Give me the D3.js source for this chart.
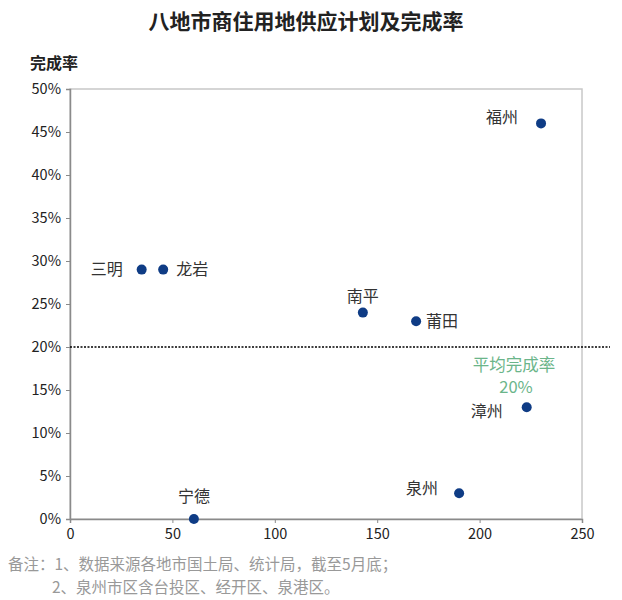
<!DOCTYPE html>
<html>
<head>
<meta charset="utf-8">
<script src="https://cdn.jsdelivr.net/npm/d3@7"></script>
<style>
  body { margin: 0; background: #fff; }
  svg text { font-family: "Noto Sans CJK SC", "Noto Sans", sans-serif; }
</style>
</head>
<body>
<svg id="chart" width="622" height="600"></svg>
<script>
// 城市, 供应量(x), 完成率(y)
var cities = ["福州", "三明", "龙岩", "南平", "莆田", "漳州", "泉州", "宁德"];
var supply = [230, 35, 45.5, 143, 169, 223, 190, 60.5];
var rate = [0.46, 0.29, 0.29, 0.24, 0.23, 0.13, 0.03, 0];
var xTicks = [0, 50, 100, 150, 200, 250];
var yTicks = [0, 0.05, 0.1, 0.15, 0.2, 0.25, 0.3, 0.35, 0.4, 0.45, 0.5];
var avgRate = 0.2;

// label placement around each point
var labelOffset = {
  "福州": [-23, -6, "end"],
  "三明": [-19, 0, "end"],
  "龙岩": [13, 0, "start"],
  "南平": [0, -16, "middle"],
  "莆田": [10, 0, "start"],
  "漳州": [-24, 4, "end"],
  "泉州": [-21, -5, "end"],
  "宁德": [0, -23, "middle"]
};

var svg = d3.select("#chart");
var x = d3.scaleLinear().domain([0, 250]).range([70, 582]);
var y = d3.scaleLinear().domain([0, 0.5]).range([519, 89]);

svg.append("text")
  .attr("x", 306).attr("y", 29)
  .attr("text-anchor", "middle")
  .attr("font-size", 21).attr("font-weight", "bold")
  .attr("fill", "#222")
  .text("八地市商住用地供应计划及完成率");

svg.append("text")
  .attr("x", 30).attr("y", 69)
  .attr("font-size", 16).attr("font-weight", "bold")
  .attr("fill", "#222")
  .text("完成率");

// box
svg.append("rect")
  .attr("x", x(0)).attr("y", y(0.5))
  .attr("width", x(250) - x(0)).attr("height", y(0) - y(0.5))
  .attr("fill", "none").attr("stroke", "#c8c8c8").attr("stroke-width", 1.5);

var gx = svg.append("g")
  .attr("transform", "translate(0," + y(0) + ")")
  .call(d3.axisBottom(x).tickValues(xTicks).tickSize(4).tickPadding(6));
var gy = svg.append("g")
  .attr("transform", "translate(" + x(0) + ",0)")
  .call(d3.axisLeft(y).tickValues(yTicks).tickFormat(d3.format(".0%")).tickSize(4).tickPadding(5));

[gx, gy].forEach(function(g) {
  g.select(".domain").attr("stroke", "#8a8a8a").attr("stroke-width", 1.5);
  g.selectAll(".tick line").attr("stroke", "#8a8a8a");
  g.selectAll(".tick text").attr("font-size", 14.5).attr("fill", "#222")
    .attr("font-family", "\"Noto Sans\", sans-serif");
});

// average line
svg.append("line")
  .attr("x1", x(0)).attr("x2", 610)
  .attr("y1", y(avgRate)).attr("y2", y(avgRate))
  .attr("stroke", "#000").attr("stroke-width", 1.4)
  .attr("stroke-dasharray", "2,1.5");

svg.append("text")
  .attr("x", 514).attr("y", 371)
  .attr("text-anchor", "middle")
  .attr("font-size", 16.5).attr("fill", "#6bb58a")
  .text("平均完成率");
svg.append("text")
  .attr("x", 516).attr("y", 393)
  .attr("text-anchor", "middle")
  .attr("font-size", 16.5).attr("fill", "#6bb58a")
  .attr("font-family", "\"Noto Sans\", sans-serif")
  .text(d3.format(".0%")(avgRate));

var pts = svg.append("g").selectAll("g")
  .data(cities)
  .enter()
  .append("g");

pts.append("circle")
  .attr("cx", (d, i) => x(supply[i]))
  .attr("cy", (d, i) => y(rate[i]))
  .attr("r", 5)
  .attr("fill", "#0f3c85");

pts.append("text")
  .attr("font-size", 16)
  .attr("fill", "#333")
  .attr("text-anchor", d => labelOffset[d][2])
  .attr("x", (d, i) => x(supply[i]) + labelOffset[d][0])
  .attr("y", (d, i) => y(rate[i]) + labelOffset[d][1] + 5.5)
  .text(d => d);

// notes
svg.append("text")
  .attr("x", 8).attr("y", 570)
  .attr("font-size", 15.5).attr("fill", "#999")
  .text("备注：1、数据来源各地市国土局、统计局，截至5月底；");
svg.append("text")
  .attr("x", 52).attr("y", 593)
  .attr("font-size", 15.5).attr("fill", "#999")
  .text("2、泉州市区含台投区、经开区、泉港区。");
</script>
</body>
</html>
